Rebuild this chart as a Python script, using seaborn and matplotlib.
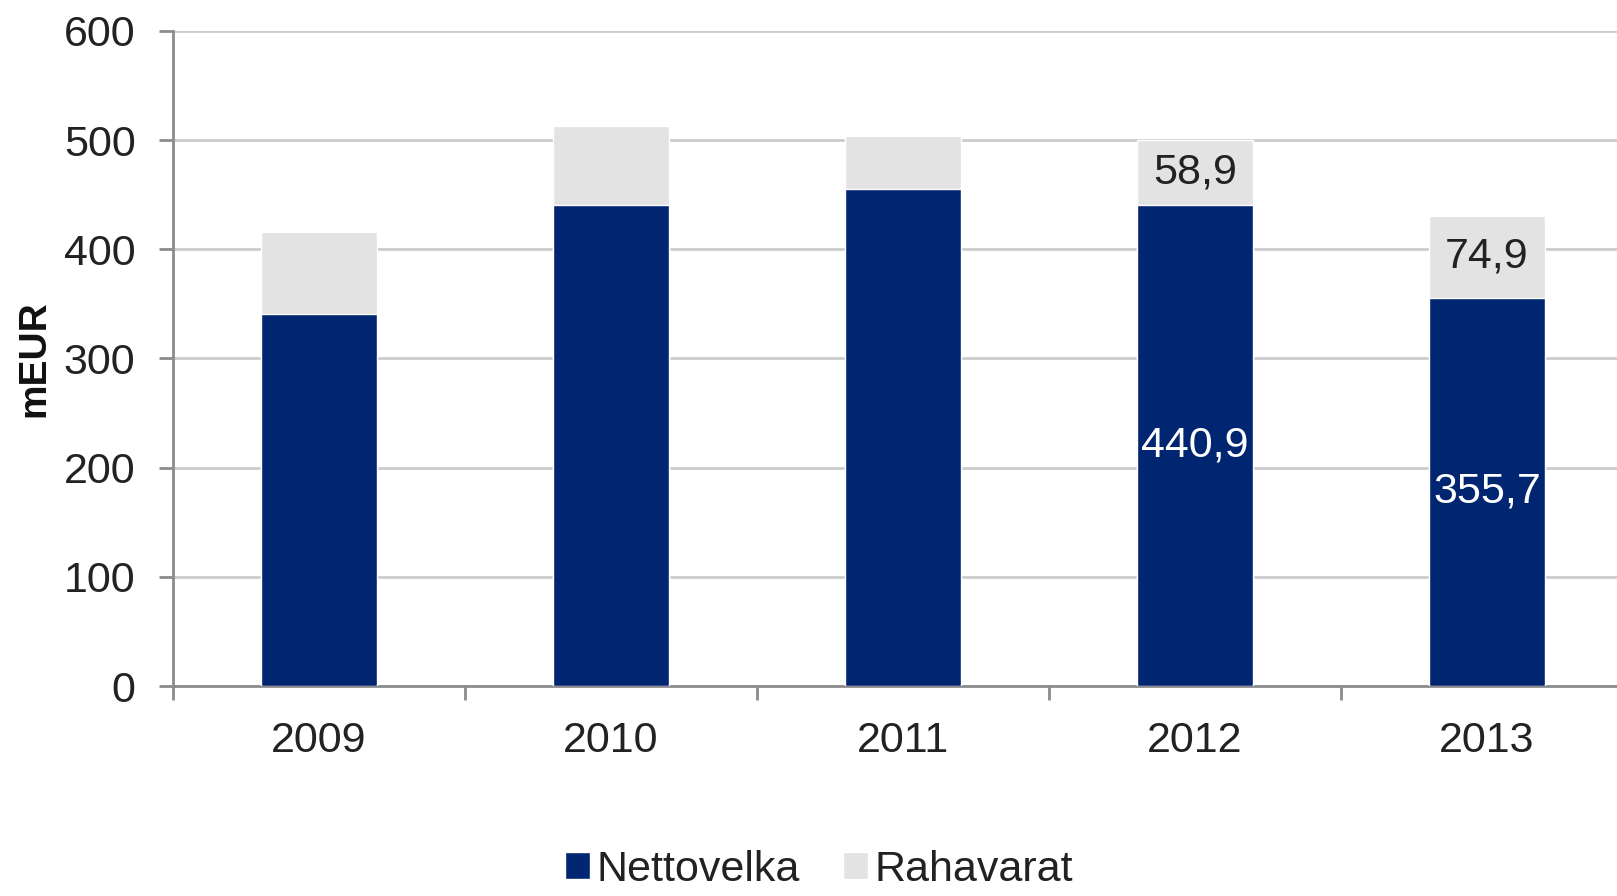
import pandas as pd
import matplotlib
matplotlib.use('Agg')
import matplotlib.pyplot as plt
import seaborn as sns
from matplotlib.patches import Patch

years = ['2009', '2010', '2011', '2012', '2013']
nettovelka = [341.0, 441.0, 455.0, 440.9, 355.7]
rahavarat = [75.0, 72.0, 49.0, 58.9, 74.9]
labelled_years = ['2012', '2013']

NAVY = '#002672'
GREY = '#e3e3e3'

sns.set_theme(style='white')
plt.rcParams['font.family'] = ['Liberation Sans', 'DejaVu Sans']

df = pd.DataFrame({'year': years, 'Nettovelka': nettovelka, 'Rahavarat': rahavarat})
df['total'] = df['Nettovelka'] + df['Rahavarat']

fig = plt.figure(figsize=(16.17, 8.96), dpi=100)
left, bottom, top = 173, 210, 31
ax = fig.add_axes([left / 1617, bottom / 896, (1617 - left) / 1617, (896 - bottom - top) / 896])

sns.barplot(data=df, x='year', y='total', order=years, color=GREY, width=0.4,
            saturation=1, ax=ax, zorder=2)
sns.barplot(data=df, x='year', y='Nettovelka', order=years, color=NAVY, width=0.4,
            saturation=1, ax=ax, zorder=3)

# value labels only for the last two years
top_labels = [f'{r:.1f}'.replace('.', ',') if y in labelled_years else ''
              for y, r in zip(years, rahavarat)]
low_labels = [f'{n:.1f}'.replace('.', ',') if y in labelled_years else ''
              for y, n in zip(years, nettovelka)]
# the grey bars show the total, so put the rahavarat label in the middle of the grey part
for bar, lab, n in zip(ax.containers[0], top_labels, nettovelka):
    if lab:
        x = bar.get_x() + bar.get_width() / 2
        ax.text(x, (n + bar.get_height()) / 2, lab, ha='center', va='center',
                fontsize=31, color='#222222', zorder=5)
ax.bar_label(ax.containers[1], labels=low_labels, label_type='center',
             fontsize=31, color='white', zorder=5)

ax.set_ylim(0, 600)
ax.set_yticks(range(0, 601, 100))
ax.set_xlim(-0.5, 4.445)
ax.set_xticks([-0.5, 0.5, 1.5, 2.5, 3.5], minor=True)
ax.yaxis.grid(True, color='#cccccc', linewidth=2, zorder=0)
ax.set_axisbelow(True)

for side in ['top', 'right']:
    ax.spines[side].set_visible(False)
for side in ['left', 'bottom']:
    ax.spines[side].set_color('#8c8c8c')
    ax.spines[side].set_linewidth(2)

ax.tick_params(axis='y', which='major', length=10, width=2, color='#8c8c8c',
               labelsize=31, labelcolor='#222222', pad=17, left=True)
ax.tick_params(axis='x', which='major', length=0, labelsize=31,
               labelcolor='#222222', pad=25)
ax.tick_params(axis='x', which='minor', length=10, width=2, color='#8c8c8c', bottom=True)

ax.set_xlabel('')
ax.set_ylabel('mEUR', fontsize=28, fontweight='bold', color='#111111', labelpad=8)

handles = [Patch(facecolor=NAVY, label='Nettovelka'), Patch(facecolor=GREY, label='Rahavarat')]
fig.legend(handles=handles, loc='center', bbox_to_anchor=(819 / 1617, 1 - 870 / 896),
           ncol=2, frameon=False, fontsize=31, handlelength=0.58, handleheight=0.58,
           handletextpad=0.15, columnspacing=1.0, labelcolor='#222222',
           borderpad=0, borderaxespad=0)

fig.savefig('out.png', dpi=100)
